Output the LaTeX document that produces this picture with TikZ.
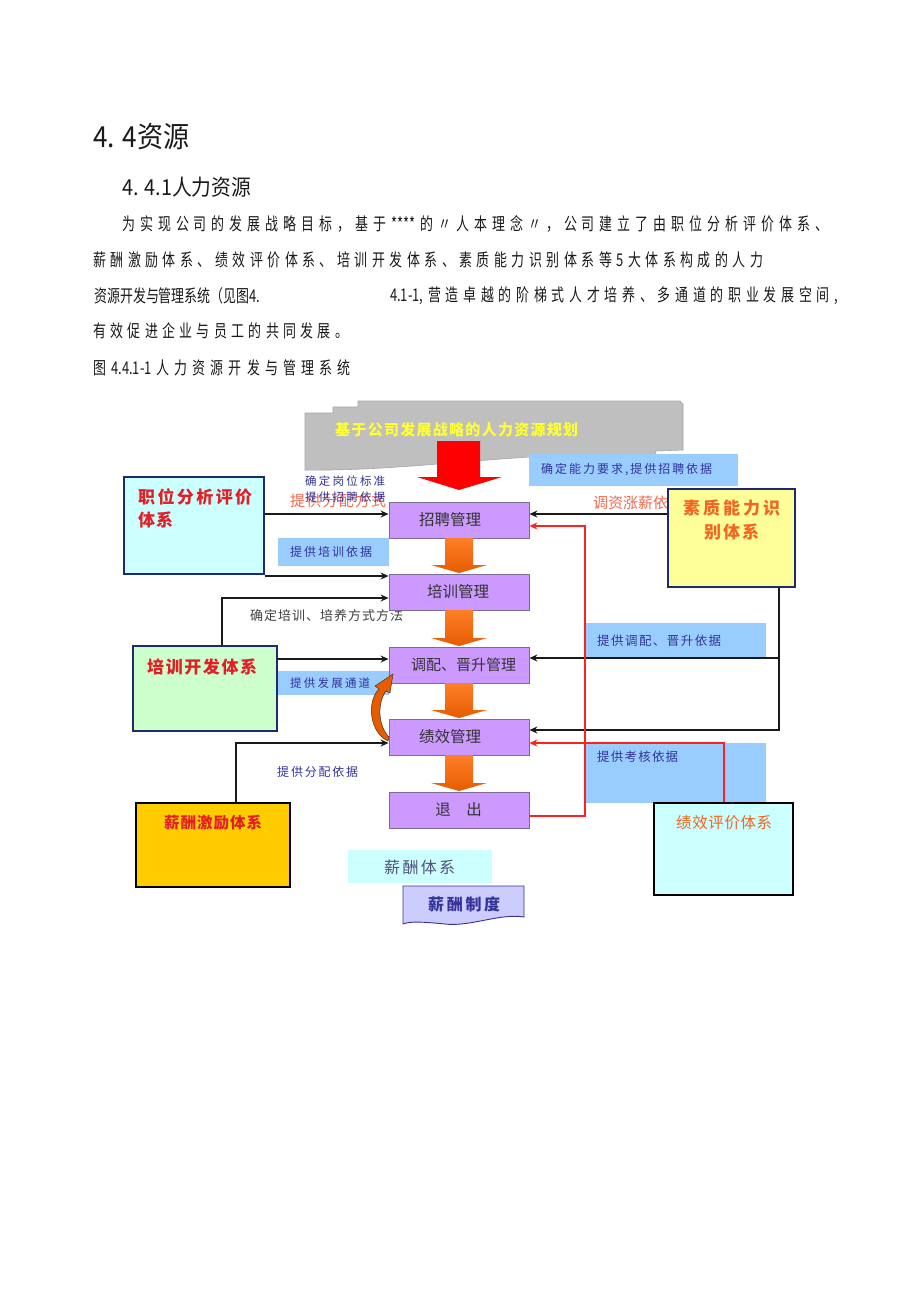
\documentclass[tikz,border=0pt]{standalone}
\usepackage{fontspec}
\setmainfont{Noto Sans CJK SC}
\newfontfamily\bodyf[FakeStretch=0.74]{Noto Sans CJK SC}
\newfontfamily\headf[FakeStretch=0.9]{Noto Sans CJK SC}
\newfontfamily\dgf{Noto Sans CJK SC}
\usetikzlibrary{arrows.meta}
\makeatletter
\newcommand\jline[2]{\hbox to #1{\@tfor\jc:=#2\do{\jc\hfil}\unskip}}
\makeatother
\definecolor{txt}{HTML}{1A1A1A}
\definecolor{mgfill}{HTML}{CC99FF}
\definecolor{mgborder}{HTML}{7B6A9A}
\definecolor{mgtext}{HTML}{333333}
\definecolor{navy}{HTML}{1F2A6E}
\definecolor{cyanfill}{HTML}{CCFFFF}
\definecolor{greenfill}{HTML}{CCFFCC}
\definecolor{goldfill}{HTML}{FFCC00}
\definecolor{yelfill}{HTML}{FFFF99}
\definecolor{bluelab}{HTML}{99CCFF}
\definecolor{lblue}{HTML}{333399}
\definecolor{redtxt}{HTML}{E31E24}
\definecolor{salmon}{HTML}{F26A4F}
\definecolor{orangetxt}{HTML}{F26522}
\definecolor{bannerfill}{HTML}{BFBFBF}
\definecolor{bannerdraw}{HTML}{A6A6A6}
\definecolor{banyel}{HTML}{FFFF33}
\definecolor{otop}{HTML}{FF7F27}
\definecolor{obot}{HTML}{E65C00}
\definecolor{redline}{HTML}{FF2020}
\definecolor{docfill}{HTML}{CCCCFF}
\definecolor{grayblue}{HTML}{50507A}
\definecolor{darkgray}{HTML}{404040}
\tikzset{
  body/.style={anchor=west, inner sep=0pt, text=txt, font=\bodyf\fontsize{17.5}{17.5}\selectfont},
  lab/.style={anchor=west, inner sep=0pt, text=lblue, font=\dgf\fontsize{12}{12}\selectfont},
  mg/.style={draw=mgborder, fill=mgfill, line width=0.8pt, minimum width=140pt, minimum height=36pt, inner sep=0pt},
  mtxt/.style={inner sep=0pt, text=mgtext, font=\dgf\fontsize{15.5}{15.5}\selectfont},
  sysbox/.style={line width=1.8pt, inner sep=0pt},
  bluebox/.style={fill=bluelab, inner sep=0pt},
  arr/.style={line width=1.4pt, draw=txt, -{Stealth[length=8pt,width=7pt]}},
  rarr/.style={line width=1.1pt, draw=redline, -{Stealth[length=8pt,width=7pt]}},
  oarrow/.style={top color=otop, bottom color=obot},
}
\newcommand\oarr[2]{\shade[oarrow] (445,#1) -- (473,#1) -- (473,#2-8) -- (487,#2-8) -- (459,#2) -- (431,#2-8) -- (445,#2-8) -- cycle;}
\begin{document}
\begin{tikzpicture}[x=1pt,y=-1pt]
\useasboundingbox (0,0) rectangle (920,1301);
\fill[white] (0,0) rectangle (920,1301);

% ---------- text ----------
\node[anchor=west, inner sep=0pt, text=txt, font=\headf\fontsize{29}{29}\selectfont] (h1) at (93,137) {4. 4资源};
\node[anchor=west, inner sep=0pt, text=txt, font=\headf\fontsize{22}{22}\selectfont] (h2) at (122,187) {4. 4.1人力资源};
\node[body] (p1) at (122,224) {\jline{706pt}{为实现公司的发展战略目标，基于{****}的〃人本理念〃，公司建立了由职位分析评价体系、}};
\node[body] (p2) at (93,260) {\jline{670pt}{薪酬激励体系、绩效评价体系、培训开发体系、素质能力识别体系等5大体系构成的人力}};
\node[body] (p3a) at (94,296) {资源开发与管理系统（见图4.};
\node[body] (p3b) at (390,296) {\jline{448pt}{{4.1-1,}营造卓越的阶梯式人才培养、多通道的职业发展空间,}};
\node[body] (p4) at (93,331) {\jline{255pt}{有效促进企业与员工的共同发展。}};
\node[body] (cap) at (93,368) {\jline{257pt}{图{4.4.1-1}人力资源开发与管理系统}};

% ---------- banner ----------
\filldraw[fill=bannerfill, draw=bannerdraw, line width=0.6pt] (305,413) -- (333,413) -- (333,407) -- (358,407) -- (358,401) -- (680,401) -- (683,404) -- (683,450) -- (656,451) -- (655,455) -- (530,457) .. controls (450,462) and (380,471) .. (305,470) -- cycle;
\node[lab, text=banyel, font=\dgf\fontsize{15}{15}\selectfont\bfseries] (tb) at (335,430) {\jline{243pt}{基于公司发展战略的人力资源规划}};
\fill[red] (437,441) -- (480,441) -- (480,477) -- (502,477) -- (459,490) -- (417,477) -- (437,477) -- cycle;

% ---------- blue label boxes ----------
\node[bluebox, minimum width=209pt, minimum height=32pt] (b1) at (633.5,470) {};
\node[lab] (b1t) at (541,470) {\jline{171pt}{确定能力要求,提供招聘依据}};
\node[bluebox, minimum width=111pt, minimum height=28pt] (b2) at (333.5,552) {};
\node[lab] (b2t) at (290,552) {\jline{82pt}{提供培训依据}};
\node[bluebox, minimum width=111pt, minimum height=24pt] (b3) at (333.5,683) {};
\node[lab, font=\dgf\fontsize{11.5}{11.5}\selectfont] (b3t) at (290,683) {\jline{80pt}{提供发展通道}};
\node[bluebox, minimum width=181pt, minimum height=35pt] (b4) at (675.5,640.5) {};
\node[lab, font=\dgf\fontsize{12.5}{12.5}\selectfont] (b4t) at (597,641) {\jline{124pt}{提供调配、晋升依据}};
\node[bluebox, minimum width=181pt, minimum height=60pt] (b5) at (675.5,773) {};
\node[lab, font=\dgf\fontsize{12.5}{12.5}\selectfont] (b5t) at (597,757) {\jline{81pt}{提供考核依据}};

% ---------- other labels ----------
\node[lab, font=\dgf\fontsize{11.5}{11.5}\selectfont] (l1) at (305,481) {\jline{80pt}{确定岗位标准}};
\node[lab, text=salmon, font=\dgf\fontsize{15}{15}\selectfont] (l2r) at (290,501) {\jline{96pt}{提供分配方式}};
\node[lab, font=\dgf\fontsize{11.5}{11.5}\selectfont] (l2) at (305,497) {\jline{80pt}{提供招聘依据}};
\node[lab, text=salmon, font=\dgf\fontsize{15}{15}\selectfont] (l3) at (593,503) {\jline{90pt}{调资涨薪依据}};
\node[lab, text=darkgray, font=\dgf\fontsize{13}{13}\selectfont] (l4) at (250,616) {\jline{153pt}{确定培训、培养方式方法}};
\node[lab] (l5) at (277,772) {\jline{81pt}{提供分配依据}};

% ---------- system boxes ----------
\node[sysbox, draw=navy, fill=cyanfill, minimum width=140pt, minimum height=97pt] (zw) at (194,525.5) {};
\node[lab, text=redtxt, font=\dgf\fontsize{17}{17}\selectfont\bfseries] (zwt1) at (138,497) {\jline{114pt}{职位分析评价}};
\node[lab, text=redtxt, font=\dgf\fontsize{17}{17}\selectfont\bfseries] (zwt2) at (138,520) {\jline{35pt}{体系}};

\node[sysbox, draw=navy, fill=greenfill, minimum width=144pt, minimum height=85pt] (px) at (205,688.5) {};
\node[lab, text=redtxt, font=\dgf\fontsize{17}{17}\selectfont\bfseries] (pxt) at (147,667) {\jline{110pt}{培训开发体系}};

\node[sysbox, draw=black, fill=goldfill, minimum width=154pt, minimum height=84pt] (xc) at (213,845) {};
\node[lab, text=redtxt, font=\dgf\fontsize{15.5}{15.5}\selectfont\bfseries] (xct) at (164,823) {\jline{98pt}{薪酬激励体系}};

\node[sysbox, draw=navy, fill=yelfill, minimum width=127pt, minimum height=98pt] (sz) at (731.5,538) {};
\node[lab, text=orangetxt, font=\dgf\fontsize{17}{17}\selectfont\bfseries] (szt1) at (683,508) {\jline{97pt}{素质能力识}};
\node[lab, text=orangetxt, font=\dgf\fontsize{17}{17}\selectfont\bfseries] (szt2) at (704,532) {\jline{55pt}{别体系}};

\node[sysbox, draw=black, fill=cyanfill, minimum width=139pt, minimum height=92pt] (jx) at (723.5,849) {};
\node[lab, text=orangetxt, font=\dgf\fontsize{15.5}{15.5}\selectfont] (jxt) at (676,823) {\jline{96pt}{绩效评价体系}};

% ---------- management column ----------
\node[mg] (zp) at (459,520) {};
\node[mtxt] at (450,520) {招聘管理};
\node[mg] (pm) at (459,592) {};
\node[mtxt] at (458,592) {培训管理};
\node[mg] (dp) at (459,665) {};
\node[mtxt, font=\dgf\fontsize{15}{15}\selectfont] at (463.5,665) {调配、晋升管理};
\node[mg] (jm) at (459,737) {};
\node[mtxt] at (450,737) {绩效管理};
\node[mg] (tc) at (459,810) {};
\node[mtxt] at (458.5,810) {退\hspace{15.5pt}出};

\oarr{538}{573}
\oarr{610}{646}
\oarr{683}{718}
\oarr{755}{791}

% curved orange arrow
\filldraw[fill=obot, draw=black!60!brown, line width=0.5pt] (388,741) .. controls (370,733) and (366,702) .. (379,689) -- (375,686) -- (393,674) -- (390,693) -- (386,691) .. controls (377,703) and (378,726) .. (389,737) -- cycle;

% ---------- salary ----------
\node[fill=cyanfill, inner sep=0pt, minimum width=144pt, minimum height=33pt] (xt) at (420,866.5) {};
\node[lab, text=grayblue, font=\dgf\fontsize{16}{16}\selectfont] (xtt) at (384,867) {\jline{71pt}{薪酬体系}};
\filldraw[fill=docfill, draw=lblue, line width=0.9pt] (403,886) -- (524,886) -- (524,917) .. controls (500,913) and (470,927) .. (445,924) .. controls (425,922) and (410,921) .. (403,924) -- cycle;
\node[lab, text=lblue, font=\dgf\fontsize{16}{16}\selectfont\bfseries] (zd) at (428,904) {\jline{72pt}{薪酬制度}};

% ---------- connectors ----------
\draw[arr] (zw.east |- 0,514) -- (zp.west |- 0,514);
\draw[arr] (zw.east |- 0,576) -- (pm.west |- 0,576);
\draw[arr] (px.north -| 222,0) |- (pm.west |- 0,598);
\draw[arr] (px.east |- 0,659) -- (dp.west |- 0,659);
\draw[arr] (xc.north -| 236,0) |- (jm.west |- 0,743);
\draw[arr] (sz.west |- 0,514) -- (zp.east |- 0,514);
\coordinate (sj) at (779,658);
\draw[arr] (sz.south -| 779,0) |- (jm.east |- 0,730);
\draw[arr] (sj) -- (dp.east |- sj);
\coordinate (rc) at (585,526);
\draw[rarr] (tc.east |- 0,816) -| (rc) -- (zp.east |- rc);
\draw[rarr] (jx.north -| 724,0) |- (jm.east |- 0,743);
\end{tikzpicture}
\end{document}
